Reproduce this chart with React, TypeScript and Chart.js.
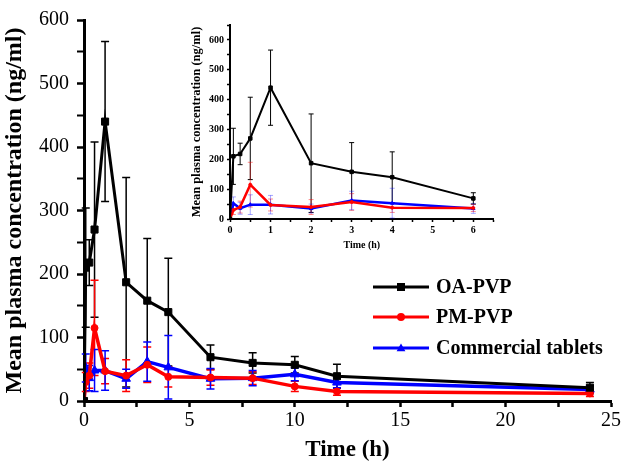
import React, { useEffect, useRef } from 'react';
import { Chart, registerables } from 'chart.js';

Chart.register(...registerables);

// ---- data ----
const TIMES = [0, 0.083, 0.25, 0.5, 1, 2, 3, 4, 6, 8, 10, 12, 24];
const OA_PVP = [0, 210, 218, 270, 440, 187, 158, 140, 69, 60, 57, 39, 21];
const OA_PVP_SD = [0, 94, 36, 138, 126, 165, 98, 85, 19, 16, 13, 19, 8];
const PM_PVP = [0, 30, 40, 115, 47, 40, 57, 38, 37, 36, 23, 15, 12];
const PM_PVP_SD = [0, 15, 20, 75, 20, 25, 28, 16, 12, 10, 8, 6, 5];
const COMMERCIAL = [0, 52, 36, 48, 48, 35, 62, 53, 35, 36, 42, 29, 18];
const COMMERCIAL_SD = [0, 22, 20, 33, 31, 15, 31, 50, 16, 12, 10, 8, 6];

const SERIES_LABELS = ['OA-PVP', 'PM-PVP', 'Commercial tablets'];
const SERIES_COLORS = ['#000000', '#ff0000', '#0000ff'];
const INSET_BAR_COLORS = ['#000000', 'rgba(255,0,0,0.45)', 'rgba(0,0,255,0.35)'];
const SERIES_MARKERS = ['rect', 'circle', 'triangle'];

const MAIN_X_MAX = 25;
const MAIN_Y_MAX = 600;
const INSET_X_MAX = 6.5;
const INSET_Y_MAX = 650;
const INSET_LAST_TIME = 6;

const X_TITLE = 'Time (h)';
const Y_TITLE = 'Mean plasma concentration (ng/ml)';

const FONT = "'Liberation Serif', 'Times New Roman', serif";

const MEANS = [OA_PVP, PM_PVP, COMMERCIAL];
const SDS = [OA_PVP_SD, PM_PVP_SD, COMMERCIAL_SD];

function toPoints(xs: number[], ys: number[], maxX: number) {
  const out: { x: number; y: number }[] = [];
  xs.forEach((x, i) => {
    if (x <= maxX) out.push({ x, y: ys[i] });
  });
  return out;
}

function makeErrorBarPlugin(cap: number, width: number, colors: string[], maxX: number) {
  return {
    id: 'errorBars',
    beforeDatasetsDraw(chart: any) {
      const { ctx, scales } = chart;
      const ys = scales.y;
      ctx.save();
      SDS.forEach((sd, di) => {
        const meta = chart.getDatasetMeta(di);
        ctx.strokeStyle = colors[di];
        ctx.lineWidth = width;
        TIMES.forEach((t, i) => {
          if (t > maxX || !sd[i]) return;
          const el = meta.data[i];
          if (!el) return;
          const x = el.x;
          const yTop = ys.getPixelForValue(MEANS[di][i] + sd[i]);
          const yBot = ys.getPixelForValue(Math.max(0, MEANS[di][i] - sd[i]));
          ctx.beginPath();
          ctx.moveTo(x, yTop);
          ctx.lineTo(x, yBot);
          ctx.moveTo(x - cap, yTop);
          ctx.lineTo(x + cap, yTop);
          ctx.moveTo(x - cap, yBot);
          ctx.lineTo(x + cap, yBot);
          ctx.stroke();
        });
      });
      ctx.restore();
    },
  };
}

function drawMarker(ctx: CanvasRenderingContext2D, style: string, x: number, y: number, r: number) {
  ctx.beginPath();
  if (style === 'rect') {
    ctx.rect(x - r, y - r, 2 * r, 2 * r);
  } else if (style === 'circle') {
    ctx.arc(x, y, r, 0, Math.PI * 2);
  } else {
    ctx.moveTo(x, y - r * 1.1);
    ctx.lineTo(x + r * 1.1, y + r * 0.8);
    ctx.lineTo(x - r * 1.1, y + r * 0.8);
    ctx.closePath();
  }
  ctx.fill();
}

const legendPlugin = {
  id: 'customLegend',
  afterDraw(chart: any) {
    const { ctx } = chart;
    const rows = [287, 317, 348];
    const x0 = 373;
    const x1 = 429;
    ctx.save();
    SERIES_LABELS.forEach((label, i) => {
      const y = rows[i];
      ctx.strokeStyle = SERIES_COLORS[i];
      ctx.fillStyle = SERIES_COLORS[i];
      ctx.lineWidth = 3;
      ctx.beginPath();
      ctx.moveTo(x0, y);
      ctx.lineTo(x1, y);
      ctx.stroke();
      drawMarker(ctx, SERIES_MARKERS[i], (x0 + x1) / 2, y, 4);
      ctx.fillStyle = '#000';
      ctx.font = `bold 20px ${FONT}`;
      ctx.textBaseline = 'middle';
      ctx.textAlign = 'left';
      ctx.fillText(label, 436, y + 1);
    });
    ctx.restore();
  },
};

function buildDatasets(maxX: number, lineWidths: number[], radii: number[]) {
  return SERIES_LABELS.map((label, i) => ({
    label,
    data: toPoints(TIMES, MEANS[i], maxX),
    borderColor: SERIES_COLORS[i],
    backgroundColor: SERIES_COLORS[i],
    pointBackgroundColor: SERIES_COLORS[i],
    pointBorderColor: SERIES_COLORS[i],
    borderWidth: lineWidths[i],
    pointStyle: SERIES_MARKERS[i],
    pointRadius: radii[i],
    pointBorderWidth: 1,
    tension: 0,
  }));
}

export default function App() {
  const mainRef = useRef<HTMLCanvasElement | null>(null);
  const insetRef = useRef<HTMLCanvasElement | null>(null);

  useEffect(() => {
    const mainChart = new Chart(mainRef.current as HTMLCanvasElement, {
      type: 'line',
      data: { datasets: buildDatasets(MAIN_X_MAX, [3, 3.5, 3.5], [5, 3.5, 5]) as any },
      options: {
        responsive: false,
        animation: false,
        events: [],
        layout: { padding: { left: 0, right: 14, top: 12, bottom: 0 } },
        plugins: { legend: { display: false }, tooltip: { enabled: false } },
        scales: {
          x: {
            type: 'linear',
            min: 0,
            max: MAIN_X_MAX,
            afterFit: (s: any) => { s.height = 65; },
            border: { display: true, color: '#000', width: 3 },
            grid: { drawOnChartArea: false, drawTicks: true, tickLength: 6, tickColor: '#000', tickWidth: 2.5 },
            ticks: {
              stepSize: 2.5,
              autoSkip: false,
              maxRotation: 0,
              color: '#000',
              padding: 2,
              font: { family: FONT, size: 20 },
              callback: (v: any) => (Number(v) % 5 === 0 ? String(v) : ''),
            },
            title: {
              display: true,
              text: X_TITLE,
              color: '#000',
              font: { family: FONT, size: 23, weight: 'bold' },
              padding: { top: 0, bottom: 2 },
            },
          },
          y: {
            type: 'linear',
            min: 0,
            max: MAIN_Y_MAX,
            afterFit: (s: any) => { s.width = 84; },
            border: { display: true, color: '#000', width: 3 },
            grid: {
              drawOnChartArea: false,
              drawTicks: true,
              tickLength: 7,
              tickColor: '#000',
              tickWidth: (c: any) => (c.tick && c.tick.value % 100 === 0 ? 2.5 : 2),
            },
            ticks: {
              stepSize: 50,
              autoSkip: false,
              color: '#000',
              padding: 8,
              font: { family: FONT, size: 20 },
              callback: (v: any) => (Number(v) % 100 === 0 ? String(v) : ''),
            },
            title: {
              display: true,
              text: Y_TITLE,
              color: '#000',
              font: { family: FONT, size: 24, weight: 'bold' },
              padding: { top: 0, bottom: 0 },
            },
          },
        },
      } as any,
      plugins: [makeErrorBarPlugin(4, 1.5, SERIES_COLORS, MAIN_X_MAX), legendPlugin],
    });

    const insetChart = new Chart(insetRef.current as HTMLCanvasElement, {
      type: 'line',
      data: { datasets: buildDatasets(INSET_LAST_TIME, [2, 2.5, 2.5], [2.5, 1.5, 2]) as any },
      options: {
        responsive: false,
        animation: false,
        events: [],
        layout: { padding: { left: 0, right: 6.4, top: 10, bottom: 0 } },
        plugins: { legend: { display: false }, tooltip: { enabled: false } },
        scales: {
          x: {
            type: 'linear',
            min: 0,
            max: INSET_X_MAX,
            afterFit: (s: any) => { s.height = 41; },
            border: { display: true, color: '#000', width: 2 },
            grid: { drawOnChartArea: false, drawTicks: true, tickLength: 3, tickColor: '#000', tickWidth: 1.5 },
            ticks: {
              stepSize: 0.5,
              autoSkip: false,
              maxRotation: 0,
              color: '#000',
              padding: 2,
              font: { family: FONT, size: 10, weight: 'bold' },
              callback: (v: any) => (Number.isInteger(Number(v)) && Number(v) <= INSET_LAST_TIME ? String(v) : ''),
            },
            title: {
              display: true,
              text: X_TITLE,
              color: '#000',
              font: { family: FONT, size: 10, weight: 'bold' },
              padding: { top: 0, bottom: 9 },
            },
          },
          y: {
            type: 'linear',
            min: 0,
            max: INSET_Y_MAX,
            afterFit: (s: any) => { s.width = 50; },
            border: { display: true, color: '#000', width: 2 },
            grid: { drawOnChartArea: false, drawTicks: true, tickLength: 3, tickColor: '#000', tickWidth: 1.5 },
            ticks: {
              stepSize: 50,
              autoSkip: false,
              color: '#000',
              padding: 3,
              font: { family: FONT, size: 10, weight: 'bold' },
              callback: (v: any) => (Number(v) % 100 === 0 ? String(v) : ''),
            },
            title: {
              display: true,
              text: Y_TITLE,
              color: '#000',
              font: { family: FONT, size: 12.5, weight: 'bold' },
              padding: { top: 9.5, bottom: 0 },
            },
          },
        },
      } as any,
      plugins: [makeErrorBarPlugin(2.5, 1, INSET_BAR_COLORS, INSET_LAST_TIME)],
    });

    return () => {
      mainChart.destroy();
      insetChart.destroy();
    };
  }, []);

  return (
    <div style={{ position: 'absolute', left: 0, top: 0, width: 625, height: 466, background: '#fff' }}>
      <canvas
        ref={mainRef}
        width={625}
        height={466}
        style={{ position: 'absolute', left: 0, top: 0, width: 625, height: 466 }}
      />
      <canvas
        ref={insetRef}
        width={320}
        height={245}
        style={{ position: 'absolute', left: 180, top: 15, width: 320, height: 245 }}
      />
    </div>
  );
}
